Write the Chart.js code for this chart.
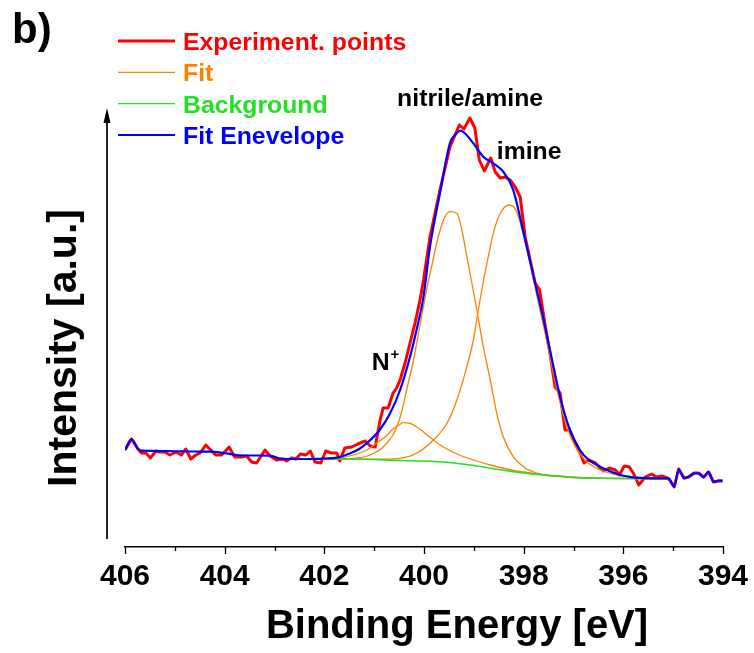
<!DOCTYPE html>
<html>
<head>
<meta charset="utf-8">
<script src="https://cdn.jsdelivr.net/npm/chart.js@4.4.0/dist/chart.umd.min.js"></script>
<style>
  html,body{margin:0;padding:0;background:#fff}
  #wrap{width:754px;height:653px}
</style>
</head>
<body>
<div id="wrap"><canvas id="xps" width="754" height="653"></canvas></div>
<script>
const C = { red:"#FF0000", orange:"#FF8000", green:"#22E022", blue:"#0000FF", ink:"#000000" };
const FONT = "'Liberation Sans', Arial, Helvetica, sans-serif";

// N 1s spectrum: binding energy [eV], intensity [a.u.]
const expEnergy = [406.0,405.87,405.74,405.67,405.58,405.49,405.38,405.32,405.20,405.10,404.97,404.87,404.78,404.68,404.58,404.49,404.38,404.30,404.18,404.06,
  403.91,403.80,403.66,403.56,403.46,403.36,403.19,403.09,402.96,402.83,402.76,402.66,402.57,402.48,402.37,402.28,402.19,402.07,401.97,401.87,
  401.75,401.69,401.59,401.45,401.33,401.18,401.08,400.98,400.88,400.82,400.72,400.62,400.55,400.48,400.38,400.28,400.18,400.08,400.01,399.88,
  399.68,399.48,399.29,399.20,399.08,398.98,398.89,398.79,398.66,398.57,398.47,398.37,398.27,398.17,398.07,397.97,397.77,397.68,397.57,397.47,
  397.37,397.27,397.17,397.08,396.93,396.85,396.79,396.70,396.56,396.40,396.28,396.16,396.08,395.98,395.88,395.80,395.69,395.56,395.43,395.34,
  395.22,395.12,395.07,394.98,394.89,394.78,394.69,394.58,394.49,394.39,394.29,394.19,394.09,394.01];
const expCounts = [97,108,98,94,94,89,96,95,95,92,95,92,98,88,92,94,102,98,92,92,
  100,90,90,91,85,84,97,91,87,88,86,89,88,93,92,96,85,84,96,94,
  94,86,99,100,103,106,101,100,127,139,139,154,159,167,184,204,224,247,267,310,
  357,400,422,418,429,419,387,376,389,375,369,370,367,360,350,310,264,257,222,193,
  160,154,117,117,100,92,84,87,84,76,79,77,72,81,80,74,62,70,73,70,
  71,69,67,60,78,69,70,74,74,70,75,65,66,66];

const envEnergy = [406.0,405.87,405.74,405.67,405.2,404.6,404.3,403.96,403.76,403.4,403.09,402.89,402.6,402.29,402.0,401.75,401.49,401.30,401.15,400.89,
  400.68,400.48,400.28,400.15,400.01,399.88,399.68,399.48,399.38,399.26,399.18,399.01,398.81,398.61,398.41,398.21,398.00,397.77,397.60,397.43,
  397.27,397.07,396.87,396.73,396.53,396.33,396.06,395.80,395.39,395.09,394.98,394.89,394.78,394.69,394.58,394.49,394.39,394.29,394.19,394.09,394.01];
const envCounts = [97,108,98,96.3,96,95.5,95.3,93.7,92,91.5,91.3,88.5,88,88,88.5,89.3,93.5,98,103.7,117,
  133.7,157,190.3,217,250.3,300.3,353.7,403.7,412,416.3,413.7,403.7,390.3,383.7,375.3,357,313.7,263.7,227,187,
  150.3,117,97,88.7,82,77,72,69.7,68.7,68.7,60.3,77.7,68.7,70.3,73.7,73.7,69.7,75.3,65.3,66.3,66.3];

const bgEnergy = [402.2,401.5,401.0,400.5,400.0,399.5,399.0,398.5,398.0,397.5,397.0,396.5,396.0,395.5,395.1];
const bgCounts = [88,88,87.5,86.5,86,84.5,81.5,77.5,74,71.5,69.5,68.8,68.5,68.3,68.3];

const nplusEnergy = [402.2,401.69,401.42,401.15,400.95,400.78,400.62,400.48,400.42,400.28,400.15,400.01,399.81,399.61,399.34,399.01,398.67,398.34,398.00,397.67,397.27,396.5,395.1];
const nplusCounts = [88,89,92,97,104,110,118,122.7,124.3,123.7,120.3,115,107,100,93,87,82,78,75,72.7,71,68.8,68.3];

const nitrileEnergy = [402.2,401.42,401.08,400.82,400.58,400.45,400.35,400.21,400.08,399.92,399.84,399.74,399.61,399.48,399.34,399.24,399.14,399.04,398.94,398.81,
  398.67,398.54,398.41,398.21,398.00,397.67,397.13,396.46,395.1];
const nitrileCounts = [88,88.7,92,100,116,135,157,187,222,264,282,305,327,335.3,333.7,317,290.3,264,237,200.3,
  167,133.7,110.3,90.3,80,73,70,68.6,68.3];

const imineEnergy = [402.2,401.69,401.02,400.48,400.15,399.81,399.54,399.34,399.14,399.01,398.91,398.81,398.71,398.61,398.47,398.29,398.14,398.00,397.87,397.73,
  397.57,397.41,397.23,397.03,396.77,396.46,396.06,395.66,395.1];
const imineCounts = [88,88,87.8,88.7,93.7,107,123.7,147,180.3,207,237,265.3,290.3,313.7,333.7,342,335.3,311,283,250,
  214,175,137,107,87,77,71.5,69.5,68.3];

const X_MIN = 394, X_MAX = 406, X_STEP = 2;
const Y_MAX = 487;

const legendItems = [
  { text:"Experiment. points", color:C.red, width:3 },
  { text:"Fit", color:C.orange, width:1.3 },
  { text:"Background", color:C.green, width:1.3 },
  { text:"Fit Enevelope", color:C.blue, width:2 }
];
const peakLabels = [
  { text:"nitrile/amine", e:400.54, i:441 },
  { text:"imine", e:398.54, i:388 },
  { text:"N", sup:"+", e:401.05, i:177 }
];

const zip = (xs, ys) => xs.map((x,k)=>({ x, y:ys[k] }));

const decor = {
  id:"decor",
  afterDraw(chart){
    const { ctx, chartArea:a, scales:{ x, y } } = chart;
    ctx.save();

    // major + minor tick marks
    ctx.strokeStyle = C.ink; ctx.lineWidth = 1.3;
    const tick = (v,len)=>{
      const px = Math.round(x.getPixelForValue(v)) + 0.5;
      ctx.beginPath(); ctx.moveTo(px, a.bottom); ctx.lineTo(px, a.bottom + len); ctx.stroke();
    };
    const majors = x.ticks.map(t=>t.value);
    majors.forEach((v,k)=>{
      tick(v, 7);
      if(k < majors.length-1) tick((v + majors[k+1]) / 2, 4);
    });

    // intensity arrow
    const ax = a.left - 18;
    ctx.lineWidth = 1.7;
    ctx.beginPath(); ctx.moveTo(ax, a.bottom - 8); ctx.lineTo(ax, 120); ctx.stroke();
    ctx.fillStyle = C.ink;
    ctx.beginPath(); ctx.moveTo(ax, 108); ctx.lineTo(ax - 3.5, 123); ctx.lineTo(ax + 3.5, 123); ctx.closePath(); ctx.fill();

    // axis titles and panel letter
    ctx.fillStyle = C.ink;
    ctx.textBaseline = "alphabetic";
    ctx.font = "bold 40px " + FONT;
    ctx.textAlign = "center";
    ctx.fillText("Binding Energy [eV]", 457, 638);
    ctx.save();
    ctx.translate(76, 348); ctx.rotate(-Math.PI/2);
    ctx.font = "bold 41px " + FONT;
    ctx.fillText("Intensity [a.u.]", 0, 0);
    ctx.restore();
    ctx.textAlign = "left";
    ctx.font = "bold 42px " + FONT;
    ctx.fillText("b)", 12, 43);

    // legend
    ctx.font = "bold 24.8px " + FONT;
    legendItems.forEach((it,k)=>{
      const by = 50 + k * 31.3;
      ctx.strokeStyle = it.color; ctx.lineWidth = it.width;
      ctx.beginPath(); ctx.moveTo(118, by - 9); ctx.lineTo(175, by - 9); ctx.stroke();
      ctx.fillStyle = it.color;
      ctx.fillText(it.text, 183, by);
    });

    // peak assignments
    ctx.fillStyle = C.ink;
    peakLabels.forEach(p=>{
      const px = x.getPixelForValue(p.e), py = y.getPixelForValue(p.i);
      ctx.font = "bold 24.8px " + FONT;
      ctx.fillText(p.text, px, py);
      if(p.sup){
        const w = ctx.measureText(p.text).width;
        ctx.font = "bold 15px " + FONT;
        ctx.fillText(p.sup, px + w + 1, py - 11);
      }
    });
    ctx.restore();
  }
};

const line = (label, data, color, width, order, smooth) => ({
  label, data, borderColor:color, backgroundColor:color, borderWidth:width, order,
  pointRadius:0, fill:false, tension:0, cubicInterpolationMode: smooth ? "monotone" : "default",
  borderJoinStyle:"round"
});

new Chart(document.getElementById("xps"), {
  type:"line",
  data:{ datasets:[
    line("Experiment. points", zip(expEnergy, expCounts), C.red, 3, 5, false),
    line("Fit", zip(nplusEnergy, nplusCounts), C.orange, 1.3, 4, true),
    line("Fit", zip(nitrileEnergy, nitrileCounts), C.orange, 1.3, 4, true),
    line("Fit", zip(imineEnergy, imineCounts), C.orange, 1.3, 4, true),
    line("Background", zip(bgEnergy, bgCounts), C.green, 1.5, 3, true),
    line("Fit Enevelope", zip(envEnergy, envCounts), C.blue, 2.2, 1, true)
  ]},
  options:{
    responsive:false, animation:false, devicePixelRatio:1,
    layout:{ padding:{ top:60, left:125, right:31, bottom:0 } },
    plugins:{ legend:{ display:false }, tooltip:{ enabled:false } },
    scales:{
      x:{ type:"linear", reverse:true, min:X_MIN, max:X_MAX,
        grid:{ display:false },
        border:{ display:true, color:C.ink, width:1.5 },
        ticks:{ stepSize:X_STEP, color:C.ink, padding:4, font:{ family:FONT, size:30, weight:"bold" } },
        afterFit(s){ s.height = 106; } },
      y:{ display:false, min:0, max:Y_MAX }
    }
  },
  plugins:[decor]
});
</script>
</body>
</html>
